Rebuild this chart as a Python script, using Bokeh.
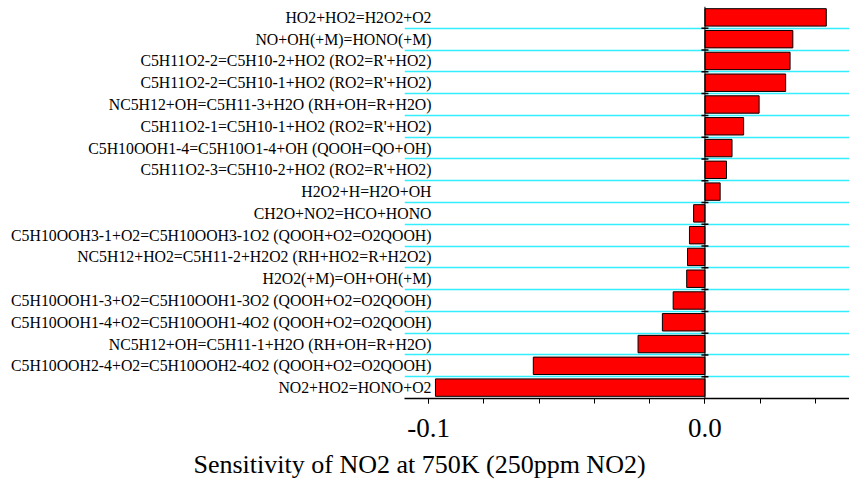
import numpy as np
from bokeh.plotting import figure
from bokeh.models import (ColumnDataSource, Span, Range1d, Title,
                          FixedTicker, Grid, PrintfTickFormatter)
from bokeh.embed import file_html
from bokeh.resources import INLINE

reactions = [
    "HO2+HO2=H2O2+O2",
    "NO+OH(+M)=HONO(+M)",
    "C5H11O2-2=C5H10-2+HO2 (RO2=R'+HO2)",
    "C5H11O2-2=C5H10-1+HO2 (RO2=R'+HO2)",
    "NC5H12+OH=C5H11-3+H2O (RH+OH=R+H2O)",
    "C5H11O2-1=C5H10-1+HO2 (RO2=R'+HO2)",
    "C5H10OOH1-4=C5H10O1-4+OH (QOOH=QO+OH)",
    "C5H11O2-3=C5H10-2+HO2 (RO2=R'+HO2)",
    "H2O2+H=H2O+OH",
    "CH2O+NO2=HCO+HONO",
    "C5H10OOH3-1+O2=C5H10OOH3-1O2 (QOOH+O2=O2QOOH)",
    "NC5H12+HO2=C5H11-2+H2O2 (RH+HO2=R+H2O2)",
    "H2O2(+M)=OH+OH(+M)",
    "C5H10OOH1-3+O2=C5H10OOH1-3O2 (QOOH+O2=O2QOOH)",
    "C5H10OOH1-4+O2=C5H10OOH1-4O2 (QOOH+O2=O2QOOH)",
    "NC5H12+OH=C5H11-1+H2O (RH+OH=R+H2O)",
    "C5H10OOH2-4+O2=C5H10OOH2-4O2 (QOOH+O2=O2QOOH)",
    "NO2+HO2=HONO+O2",
]
sensitivity = [0.0439, 0.0318, 0.0308, 0.0292, 0.0196, 0.0140, 0.0098, 0.0078,
               0.0055, -0.0041, -0.0056, -0.0063, -0.0066, -0.0115, -0.0154,
               -0.0242, -0.0621, -0.0975]
major_ticks = [-0.1, 0.0]
minor_ticks = [-0.1, -0.08, -0.06, -0.04, -0.02, 0.0, 0.02, 0.04]
x_title = "Sensitivity of NO2 at 750K (250ppm NO2)"

FONT = "Liberation Serif"
n = len(reactions)
rows = list(range(n))
boundaries = [i + 0.5 for i in range(n - 1)]
X_MIN, X_MAX = -0.1087, 0.0523

p = figure(width=849, height=490, output_backend="svg", toolbar_location=None,
           x_range=Range1d(X_MIN, X_MAX), y_range=Range1d(n - 0.5, -0.5),
           min_border_left=404, min_border_right=0,
           min_border_top=6, min_border_bottom=92)
p.outline_line_color = None
p.xgrid.visible = False
p.ygrid.visible = False

grid = Grid(dimension=1, ticker=FixedTicker(ticks=boundaries),
            grid_line_color="#33EEFF", grid_line_width=1.5)
p.add_layout(grid)

src = ColumnDataSource(dict(y=rows, v=sensitivity, name=reactions))
p.hbar(y="y", left=0, right="v", height=0.8, source=src,
       fill_color="#FF0000", line_color="black", line_width=1)

p.add_layout(Span(location=0, dimension="height", line_color="black",
                  line_width=1))
p.scatter(x=[0] * len(boundaries), y=boundaries, marker="dash", size=7,
          line_color="black", line_width=1.5)

# reaction labels via the left axis, pushed into the frame
yax = p.yaxis[0]
yax.ticker = FixedTicker(ticks=rows)
yax.major_label_overrides = {i: name for i, name in zip(rows, reactions)}
yax.major_label_standoff = -33
yax.axis_line_color = None
yax.major_tick_line_color = None
yax.minor_tick_line_color = None
yax.major_label_text_font = FONT
yax.major_label_text_font_size = "15.8px"
yax.major_label_text_color = "black"

ax = p.xaxis[0]
ax.ticker = FixedTicker(ticks=major_ticks, minor_ticks=minor_ticks)
ax.formatter = PrintfTickFormatter(format="%.1f")
ax.major_label_text_font = FONT
ax.major_label_text_font_size = "27px"
ax.major_label_text_color = "black"
ax.major_label_standoff = 15
ax.axis_line_color = "black"
ax.axis_line_width = 1.5
ax.major_tick_in = 0
ax.major_tick_out = 5
ax.minor_tick_in = 0
ax.minor_tick_out = 5
ax.major_tick_line_color = "black"
ax.minor_tick_line_color = "black"

p.add_layout(Title(text=x_title, align="left", offset=-211, standoff=17,
                   text_font=FONT, text_font_size="26px",
                   text_font_style="normal", text_color="black"), "below")

open("out.html", "w").write(file_html(p, INLINE))
